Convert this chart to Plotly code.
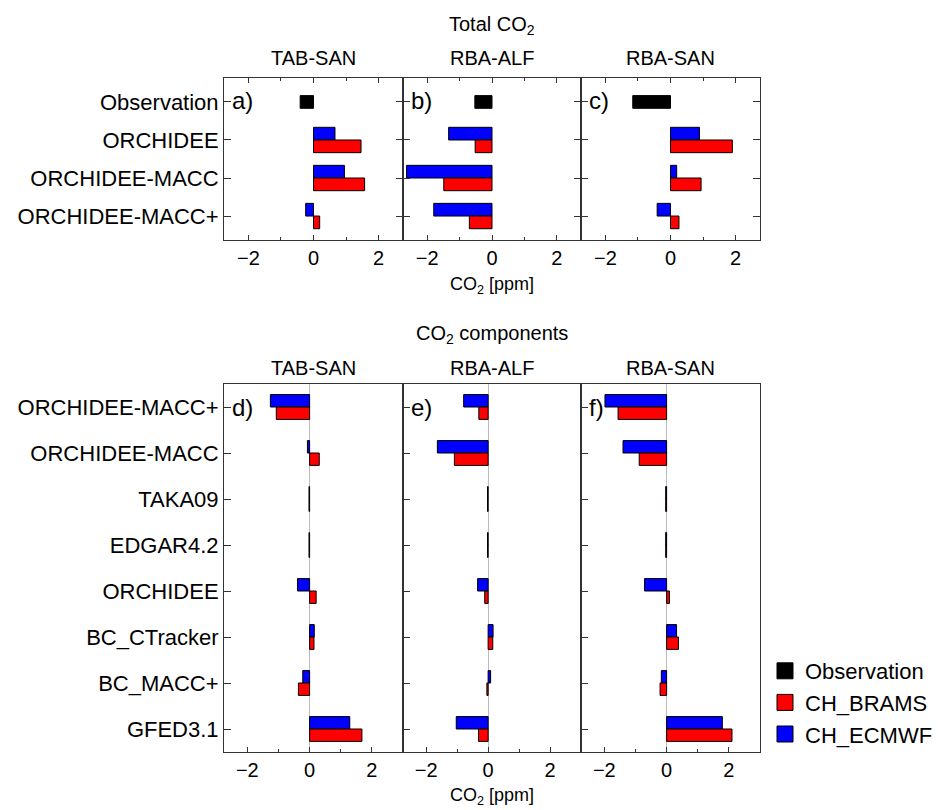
import plotly.graph_objects as go

# ---------------- data ----------------
stations = ["TAB-SAN", "RBA-ALF", "RBA-SAN"]

# Total CO2 enhancement (ppm)
total_rows = ["Observation", "ORCHIDEE", "ORCHIDEE-MACC", "ORCHIDEE-MACC+"]
total_models = ["ORCHIDEE", "ORCHIDEE-MACC", "ORCHIDEE-MACC+"]
obs_total = [-0.41, -0.53, -1.16]
brams_total = [
    [1.46, 1.57, 0.19],
    [-0.52, -1.49, -0.70],
    [1.90, 0.94, 0.26],
]
ecmwf_total = [
    [0.66, 0.95, -0.24],
    [-1.34, -2.64, -1.80],
    [0.89, 0.19, -0.41],
]

# CO2 components (ppm)
components = ["ORCHIDEE-MACC+", "ORCHIDEE-MACC", "TAKA09", "EDGAR4.2",
              "ORCHIDEE", "BC_CTracker", "BC_MACC+", "GFED3.1"]
brams_comp = [
    [-1.07, 0.31, -0.02, -0.02, 0.21, 0.14, -0.36, 1.68],
    [-0.30, -1.09, -0.02, -0.02, -0.11, 0.15, -0.04, -0.31],
    [-1.56, -0.88, -0.03, -0.03, 0.09, 0.38, -0.21, 2.10],
]
ecmwf_comp = [
    [-1.26, -0.07, -0.02, -0.02, -0.39, 0.15, -0.22, 1.29],
    [-0.79, -1.64, -0.02, -0.02, -0.34, 0.16, 0.08, -1.03],
    [-1.98, -1.40, -0.03, -0.03, -0.71, 0.32, -0.17, 1.79],
]

panel_letters_top = ["a)", "b)", "c)"]
panel_letters_bot = ["d)", "e)", "f)"]

# ---------------- styling ----------------
W, H = 938, 810
FONT = "Liberation Sans, Arial, sans-serif"
BLACK, RED, BLUE = "#000000", "#FF0000", "#0000FF"
LINE = "#333333"

x_edges = [224, 403, 581, 760]          # panel boundaries (px)
top_y = (78, 240)                         # top row, px from top
bot_y = (384, 752)                        # bottom row, px from top


def px_dom(a, b, total):
    return [a / total, b / total]


def ydom(top, bottom):
    return [(H - bottom) / H, (H - top) / H]


fig = go.Figure()

w_top = 1 / 3
w_bot = 0.27

for i, st in enumerate(stations):
    xt, yt = f"x{i + 1}", f"y{i + 1}"
    xb, yb = f"x{i + 4}", f"y{i + 4}"

    # --- total CO2 panels ---
    fig.add_trace(go.Bar(
        orientation="h", y=["Observation"], x=[obs_total[i]],
        width=w_top, offset=-w_top / 2, marker=dict(color=BLACK, line=dict(color=BLACK, width=1)),
        xaxis=xt, yaxis=yt, showlegend=False, name="Observation"))
    fig.add_trace(go.Bar(
        orientation="h", y=total_models, x=ecmwf_total[i],
        width=w_top, offset=-w_top, marker=dict(color=BLUE, line=dict(color=BLACK, width=1)),
        xaxis=xt, yaxis=yt, showlegend=False, name="CH_ECMWF"))
    fig.add_trace(go.Bar(
        orientation="h", y=total_models, x=brams_total[i],
        width=w_top, offset=0, marker=dict(color=RED, line=dict(color=BLACK, width=1)),
        xaxis=xt, yaxis=yt, showlegend=False, name="CH_BRAMS"))

    # --- component panels ---
    fig.add_trace(go.Bar(
        orientation="h", y=components, x=ecmwf_comp[i],
        width=w_bot, offset=-w_bot, marker=dict(color=BLUE, line=dict(color=BLACK, width=1)),
        xaxis=xb, yaxis=yb, showlegend=False, name="CH_ECMWF"))
    fig.add_trace(go.Bar(
        orientation="h", y=components, x=brams_comp[i],
        width=w_bot, offset=0, marker=dict(color=RED, line=dict(color=BLACK, width=1)),
        xaxis=xb, yaxis=yb, showlegend=False, name="CH_BRAMS"))

# legend entries (large square swatches)
for name, col in [("Observation", BLACK), ("CH_BRAMS", RED), ("CH_ECMWF", BLUE)]:
    fig.add_trace(go.Scatter(
        x=[None], y=[None], mode="markers", name=name,
        marker=dict(symbol="square", size=16, color=col, line=dict(color=BLACK, width=1)),
        xaxis="x1", yaxis="y1", showlegend=True))

layout = dict(
    width=W, height=H,
    margin=dict(l=0, r=0, t=0, b=0),
    paper_bgcolor="white", plot_bgcolor="white",
    barmode="overlay",
    font=dict(family=FONT, size=20, color="black"),
    legend=dict(x=765 / W, y=(H - 650) / H, xanchor="left", yanchor="top",
                font=dict(size=22), bgcolor="rgba(0,0,0,0)", tracegroupgap=0,
                itemsizing="trace"),
)

for i in range(3):
    # top row
    layout[f"xaxis{i + 1}"] = dict(
        domain=px_dom(x_edges[i], x_edges[i + 1], W), anchor=f"y{i + 1}",
        range=[-2.75, 2.75], tickvals=[-2, 0, 2], ticks="inside", ticklen=5,
        tickcolor=LINE, showline=True, linecolor=LINE, linewidth=1, mirror="ticks",
        showgrid=False, zeroline=False, tickfont=dict(size=20),
        minor=dict(tickvals=[-1, 1], ticks="inside", ticklen=3, tickcolor=LINE, showgrid=False),
    )
    layout[f"yaxis{i + 1}"] = dict(
        domain=ydom(*top_y), anchor=f"x{i + 1}",
        type="category", categoryorder="array", categoryarray=total_rows,
        range=[3.63, -0.63], ticks="inside", ticklen=7, tickcolor=LINE,
        showline=True, linecolor=LINE, linewidth=1, mirror="ticks",
        showgrid=False, zeroline=False, showticklabels=(i == 0),
        tickfont=dict(size=22),
    )
    # bottom row
    layout[f"xaxis{i + 4}"] = dict(
        domain=px_dom(x_edges[i], x_edges[i + 1], W), anchor=f"y{i + 4}",
        range=[-2.75, 3.0], tickvals=[-2, 0, 2], ticks="inside", ticklen=5,
        tickcolor=LINE, showline=True, linecolor=LINE, linewidth=1, mirror=True,
        showgrid=False, zeroline=True, zerolinecolor="#bbbbbb", zerolinewidth=1,
        tickfont=dict(size=20),
        minor=dict(tickvals=[-1, 1], ticks="inside", ticklen=3, tickcolor=LINE, showgrid=False),
    )
    layout[f"yaxis{i + 4}"] = dict(
        domain=ydom(*bot_y), anchor=f"x{i + 4}",
        type="category", categoryorder="array", categoryarray=components,
        range=[7.5, -0.5], ticks="inside", ticklen=7, tickcolor=LINE,
        showline=True, linecolor=LINE, linewidth=1, mirror=True,
        showgrid=False, zeroline=False, showticklabels=(i == 0),
        tickfont=dict(size=22),
    )

fig.update_layout(**layout)

# titles and labels
ann = []
cx_all = (x_edges[0] + x_edges[-1]) / 2
ann.append(dict(text="Total CO<sub>2</sub>", x=cx_all / W, y=(H - 25) / H, font=dict(size=20)))
ann.append(dict(text="CO<sub>2</sub> components", x=cx_all / W, y=(H - 335) / H, font=dict(size=20)))
ann.append(dict(text="CO<sub>2</sub> [ppm]", x=cx_all / W, y=(H - 285) / H, font=dict(size=18)))
ann.append(dict(text="CO<sub>2</sub> [ppm]", x=cx_all / W, y=(H - 796) / H, font=dict(size=18)))
for i, st in enumerate(stations):
    cx = (x_edges[i] + x_edges[i + 1]) / 2
    ann.append(dict(text=st, x=cx / W, y=(H - 58) / H, font=dict(size=20)))
    ann.append(dict(text=st, x=cx / W, y=(H - 368) / H, font=dict(size=20)))
    ann.append(dict(text=panel_letters_top[i], x=(x_edges[i] + 6) / W, y=(H - 100) / H,
                    xanchor="left", font=dict(size=24)))
    ann.append(dict(text=panel_letters_bot[i], x=(x_edges[i] + 6) / W, y=(H - 407) / H,
                    xanchor="left", font=dict(size=24)))

for a in ann:
    a.setdefault("xanchor", "center")
    a.update(xref="paper", yref="paper", yanchor="middle", showarrow=False)
fig.update_layout(annotations=ann)

fig.write_html("out.html")
